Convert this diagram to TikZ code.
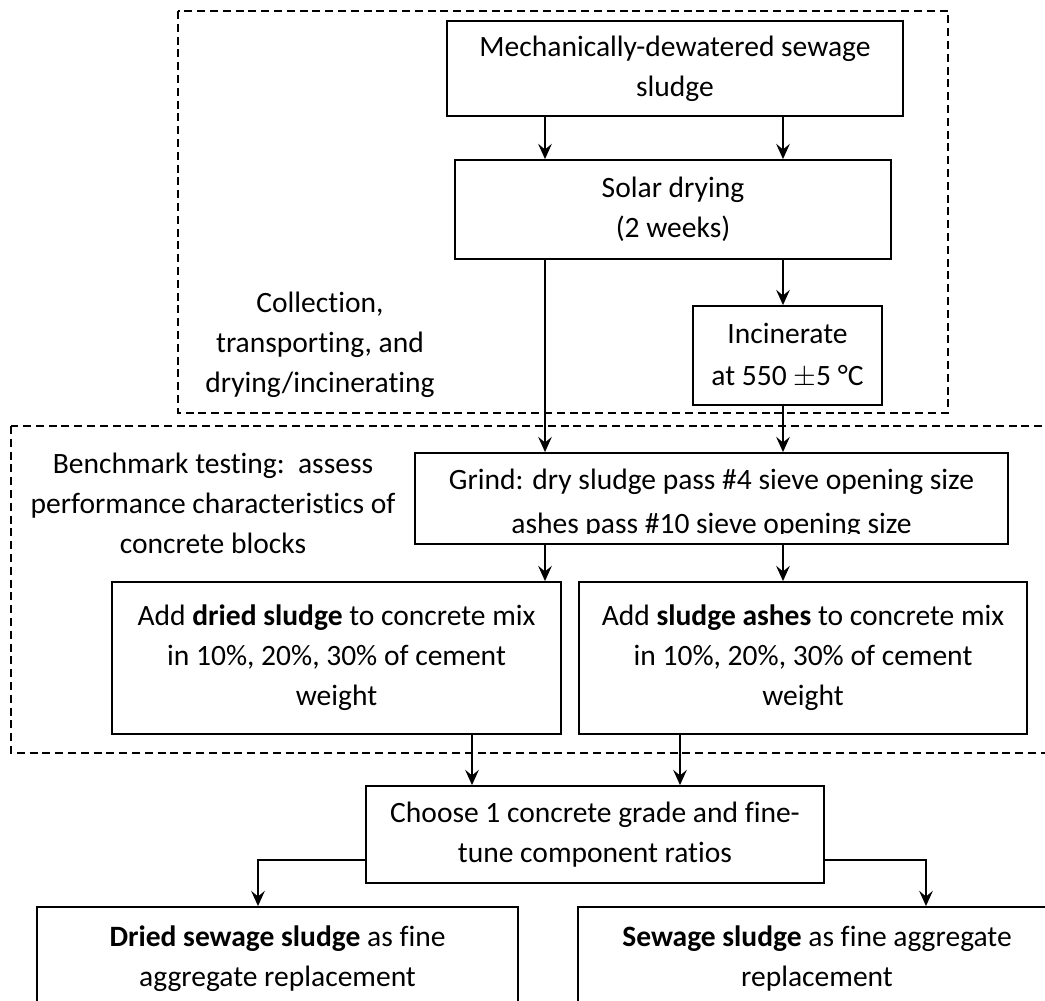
\documentclass[tikz,border=0pt]{standalone}
\usepackage{fontspec}
\setmainfont{Carlito}[Ligatures=NoCommon]
\usepackage{tikz}
\usetikzlibrary{calc,positioning,arrows.meta}

\begin{document}
\begin{tikzpicture}[x=0.25mm,y=-0.25mm,
  every node/.style={font=\fontsize{21pt}{28.45pt}\selectfont, align=center},
  procbox/.style={draw, line width=0.45mm, inner sep=0pt},
  stagebox/.style={draw, dashed, dash pattern=on 2mm off 1.2mm, line width=0.33mm},
  flow/.style={line width=0.5mm, -{Stealth[length=3.8mm,width=3.4mm,inset=1.4mm]}}]
  \useasboundingbox (0,0) rectangle (1045,1001);
  \clip (0,0) rectangle (1045,1001);

  % dashed stage frames
  \draw[stagebox] (178,11) rectangle (948,413);
  \draw[stagebox] (11,426) rectangle (1070,753);
  \node (collect) at (320,345) {Collection,\\transporting, and\\drying/incinerating};
  \node (bench) at (213,503) {Benchmark testing:\ \ assess\\performance characteristics of\\concrete blocks};

  % process boxes
  \node[procbox, minimum width=114mm, minimum height=23.75mm] (mech) at (675,68.5) {Mechanically-dewatered sewage\\sludge};
  \node[procbox, minimum width=109mm, minimum height=24.75mm] (solar) at (673,209.5) {Solar drying\\(2 weeks)};
  \node[procbox, minimum width=47.25mm, minimum height=24.75mm] (incin) at (787.5,355.5) {Incinerate\\[0.5mm]at 550 $\pm$5 °C};
  \node[procbox, minimum width=148.25mm, minimum height=22.75mm] (grind) at (711.5,498.5) {};
  \begin{scope}
    \clip (415,453) rectangle (1008,534);
    \node (grindtext) at (711.5,504) {Grind: dry sludge pass \#4 sieve opening size\\[1mm]ashes pass \#10 sieve opening size};
  \end{scope}
  \node[procbox, minimum width=112.25mm, minimum height=38mm] (addL) at (336.5,658) {Add \textbf{dried sludge} to concrete mix\\in 10\%, 20\%, 30\% of cement\\weight};
  \node[procbox, minimum width=112mm, minimum height=38mm] (addR) at (803,658) {Add \textbf{sludge ashes} to concrete mix\\in 10\%, 20\%, 30\% of cement\\weight};
  \node[procbox, minimum width=114.5mm, minimum height=24.25mm] (choose) at (595,834.5) {Choose 1 concrete grade and fine-\\tune component ratios};
  \node[procbox, minimum width=120.25mm, minimum height=26mm] (outL) at (277.5,959) {\textbf{Dried sewage sludge} as fine\\aggregate replacement};
  \node[procbox, minimum width=119.5mm, minimum height=26mm] (outR) at (817,959) {\textbf{Sewage sludge} as fine aggregate\\replacement};

  % columns for the arrows
  \coordinate (colL) at (545,0);
  \coordinate (colR) at (783,0);
  \coordinate (dropL) at (472,0);
  \coordinate (dropR) at (680,0);
  \coordinate (elbL) at (258,860);
  \coordinate (elbR) at (926,860);

  \draw[flow] (mech.south -| colL) -- (solar.north -| colL);
  \draw[flow] (mech.south -| colR) -- (solar.north -| colR);
  \draw[flow] (solar.south -| colL) -- (grind.north -| colL);
  \draw[flow] (solar.south -| colR) -- (incin.north -| colR);
  \draw[flow] (incin.south -| colR) -- (grind.north -| colR);
  \draw[flow] (grind.south -| colL) -- (addL.north -| colL);
  \draw[flow] (grind.south -| colR) -- (addR.north -| colR);
  \draw[flow] (addL.south -| dropL) -- (choose.north -| dropL);
  \draw[flow] (addR.south -| dropR) -- (choose.north -| dropR);
  \draw[flow] (choose.west |- elbL) -- (elbL) -- (outL.north -| elbL);
  \draw[flow] (choose.east |- elbR) -- (elbR) -- (outR.north -| elbR);
\end{tikzpicture}
\end{document}
